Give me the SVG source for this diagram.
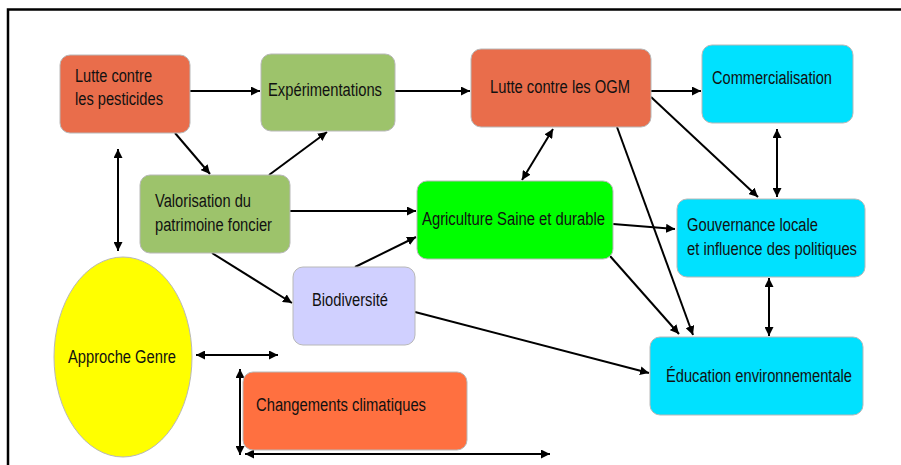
<svg xmlns="http://www.w3.org/2000/svg" width="901" height="465" viewBox="0 0 901 465">
<defs>
<marker id="ah" viewBox="0 0 10 10" refX="10" refY="5" markerWidth="4.5" markerHeight="4.5" orient="auto-start-reverse" markerUnits="strokeWidth">
<path d="M0,0 L10,5 L0,10 z" fill="#000"/>
</marker>
<style>
.n{stroke:#b8b8b8;stroke-width:1}
.t{font-family:"Liberation Sans",Arial,sans-serif;font-size:19px;fill:#111}
.c line{stroke:#000;stroke-width:2}
.e{marker-end:url(#ah)}
.b{marker-start:url(#ah);marker-end:url(#ah)}
</style>
</defs>
<rect width="901" height="465" fill="#fff"/>
<rect x="8" y="9.5" width="900" height="470" fill="none" stroke="#000" stroke-width="2.5"/>
<g class="c" id="connectors">
<line class="e" x1="190" y1="91" x2="260" y2="91"/>
<line class="e" x1="395" y1="91" x2="470" y2="91"/>
<line class="e" x1="651" y1="91" x2="701" y2="91"/>
<line class="e" x1="175" y1="133" x2="210" y2="174"/>
<line class="e" x1="269" y1="175" x2="327" y2="132"/>
<line class="b" x1="118" y1="149" x2="118" y2="251"/>
<line class="e" x1="290" y1="211" x2="416" y2="211"/>
<line class="e" x1="212" y1="253" x2="292" y2="303"/>
<line class="e" x1="355" y1="267" x2="416" y2="237"/>
<line class="b" x1="553" y1="129" x2="522" y2="180"/>
<line class="e" x1="651" y1="97" x2="758" y2="197"/>
<line class="e" x1="617" y1="127" x2="693" y2="335"/>
<line class="b" x1="777" y1="129" x2="777" y2="197"/>
<line class="e" x1="613" y1="224" x2="675" y2="229"/>
<line class="e" x1="610" y1="256" x2="679" y2="334"/>
<line class="b" x1="769" y1="278" x2="769" y2="336"/>
<line class="e" x1="415" y1="312" x2="649" y2="373"/>
<line class="b" x1="196" y1="355" x2="278" y2="355"/>
<line class="b" x1="240" y1="369" x2="240" y2="455"/>
<line class="b" x1="245" y1="454" x2="550" y2="454"/>
</g>
<g id="lutte-pesticides"><rect class="n" x="60" y="55" width="130" height="78" rx="10" fill="#E96D4B"/><text class="t" transform="matrix(0.8,0,0,1,75,82)" textLength="96.25" lengthAdjust="spacingAndGlyphs">Lutte contre</text><text class="t" transform="matrix(0.8,0,0,1,75,105)" textLength="110" lengthAdjust="spacingAndGlyphs">les pesticides</text></g>
<g id="experimentations"><rect class="n" x="261" y="54" width="134" height="77" rx="10" fill="#9DC36B"/><text class="t" transform="matrix(0.8,0,0,1,268,96)" textLength="142.5" lengthAdjust="spacingAndGlyphs">Expérimentations</text></g>
<g id="lutte-ogm"><rect class="n" x="471" y="49" width="180" height="78" rx="10" fill="#E96D4B"/><text class="t" transform="matrix(0.8,0,0,1,490,93)" textLength="175" lengthAdjust="spacingAndGlyphs">Lutte contre les OGM</text></g>
<g id="commercialisation"><rect class="n" x="702" y="45" width="151" height="78" rx="10" fill="#00E1FF"/><text class="t" transform="matrix(0.8,0,0,1,712,84)" textLength="150" lengthAdjust="spacingAndGlyphs">Commercialisation</text></g>
<g id="valorisation"><rect class="n" x="140" y="175" width="150" height="78" rx="10" fill="#9DC36B"/><text class="t" transform="matrix(0.8,0,0,1,155,207)" textLength="120" lengthAdjust="spacingAndGlyphs">Valorisation du</text><text class="t" transform="matrix(0.8,0,0,1,155,231)" textLength="146.25" lengthAdjust="spacingAndGlyphs">patrimoine foncier</text></g>
<g id="agriculture"><rect class="n" x="417" y="181" width="196" height="78" rx="10" fill="#00FF00"/><text class="t" transform="matrix(0.8,0,0,1,422,225)" textLength="228.75" lengthAdjust="spacingAndGlyphs">Agriculture Saine et durable</text></g>
<g id="gouvernance"><rect class="n" x="677" y="199" width="188" height="78" rx="10" fill="#00E1FF"/><text class="t" transform="matrix(0.8,0,0,1,687,231)" textLength="163.75" lengthAdjust="spacingAndGlyphs">Gouvernance locale</text><text class="t" transform="matrix(0.8,0,0,1,687,255)" textLength="212.5" lengthAdjust="spacingAndGlyphs">et influence des politiques</text></g>
<g id="biodiversite"><rect class="n" x="293" y="267" width="122" height="78" rx="10" fill="#D0D0FF"/><text class="t" transform="matrix(0.8,0,0,1,312,306)" textLength="95" lengthAdjust="spacingAndGlyphs">Biodiversité</text></g>
<g id="approche-genre"><ellipse class="n" cx="123" cy="357" rx="69" ry="100" fill="#FFFF00"/><text class="t" transform="matrix(0.8,0,0,1,68,363)" textLength="135" lengthAdjust="spacingAndGlyphs">Approche Genre</text></g>
<g id="changements"><rect class="n" x="243" y="372" width="224" height="78" rx="10" fill="#FF7040"/><text class="t" transform="matrix(0.8,0,0,1,256,411)" textLength="212.5" lengthAdjust="spacingAndGlyphs">Changements climatiques</text></g>
<g id="education"><rect class="n" x="650" y="337" width="213" height="78" rx="10" fill="#00E1FF"/><text class="t" transform="matrix(0.8,0,0,1,666,382)" textLength="232.5" lengthAdjust="spacingAndGlyphs">Éducation environnementale</text></g>
</svg>
